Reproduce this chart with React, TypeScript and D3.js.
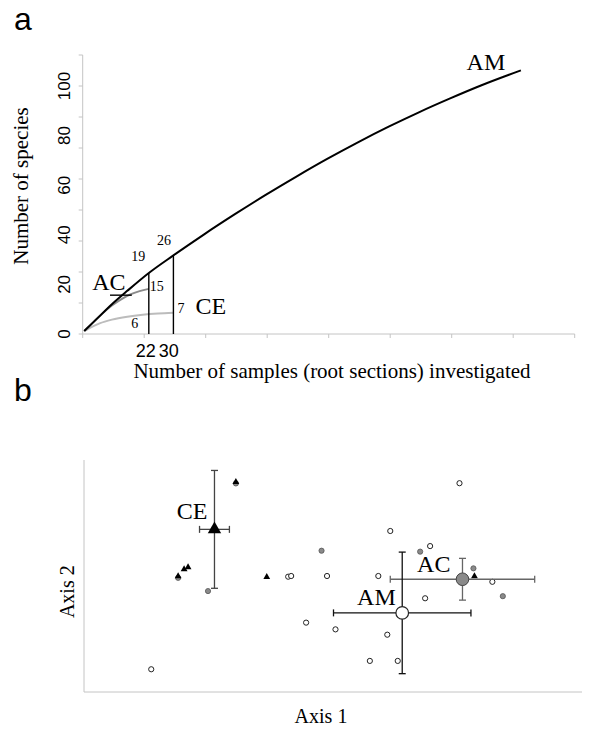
import React from "react";
import * as d3 from "d3";

// ---------- Panel a: species accumulation curves ----------
const amSamples = [1, 5, 10, 15, 22, 30, 40, 50, 60, 70, 80, 90, 100, 110, 120, 130, 143];
const amSpecies = [1.2, 6, 12, 17.4, 24.6, 31.7, 40.2, 48.3, 56.1, 63.5, 70.6, 77.3, 83.6, 89.5, 95, 100.2, 106.3];
const acSamples = [1, 4, 7, 10, 13, 16, 19, 22];
const acSpecies = [1.2, 4.8, 8.4, 11.5, 14, 16, 17.3, 18.2];
const ceSamples = [1, 3, 6, 10, 15, 20, 25, 30];
const ceSpecies = [1.2, 2.6, 4.3, 5.8, 7, 7.8, 8.3, 8.6];
const xTicksA = [0, 20, 40, 60, 80, 100, 120, 140, 160];
const yTickMarksA = [0, 12.5, 25, 37.5, 50, 62.5, 75, 87.5, 100, 112.5];
const yLabelsA = [0, 20, 40, 60, 80, 100];
const markedSamples = [22, 30];
const countLabels = ["19", "26", "15", "7", "6"];

// ---------- Panel b: ordination ----------
const amPtsX = [75.4, 61.5, 69.5, 41.0, 41.6, 48.8, 59.1, 82.0, 68.5, 44.6, 50.5, 60.9, 57.4, 63.0, 13.5];
const amPtsY = [90.0, 69.4, 62.9, 49.7, 50.0, 50.0, 50.0, 47.5, 40.4, 29.9, 27.0, 24.7, 13.4, 13.4, 9.8];
const acPtsX = [24.9, 47.7, 67.5, 78.2, 84.1, 30.5, 18.9];
const acPtsY = [43.5, 60.9, 60.5, 53.3, 41.3, 89.9, 49.2];
const cePtsX = [30.5, 18.9, 20.1, 20.9, 36.7, 78.4];
const cePtsY = [90.5, 49.9, 52.9, 53.8, 49.6, 49.9];
const groups = ["CE", "AC", "AM"];
const centX = [26.2, 76.0, 63.9];
const centY = [70.1, 48.6, 34.1];
const errX = [3.0, 14.5, 13.8];
const errY = [25.4, 9.0, 26.2];

const SERIF = "'Liberation Serif', 'Times New Roman', serif";
const SANS = "'Liberation Sans', Arial, sans-serif";

function interp(xs: number[], ys: number[], v: number) {
  for (let i = 0; i < xs.length - 1; i++) {
    if (v >= xs[i] && v <= xs[i + 1]) {
      const t = (v - xs[i]) / (xs[i + 1] - xs[i]);
      return ys[i] + t * (ys[i + 1] - ys[i]);
    }
  }
  return ys[ys.length - 1];
}

export default function App() {
  const xA = d3.scaleLinear().domain([0.5, 160.5]).range([82.7, 574.7]);
  const yA = d3.scaleLinear().domain([0, 112.5]).range([334, 55]);
  const line = d3
    .line<[number, number]>()
    .x((d) => xA(d[0]))
    .y((d) => yA(d[1]))
    .curve(d3.curveMonotoneX);
  const zip = (xs: number[], ys: number[]) => xs.map((x, i) => [x, ys[i]] as [number, number]);

  const am22 = interp(amSamples, amSpecies, 22);
  const am30 = interp(amSamples, amSpecies, 30);
  const ac22 = interp(acSamples, acSpecies, 22);
  const ce22 = interp(ceSamples, ceSpecies, 22);
  const ce30 = interp(ceSamples, ceSpecies, 30);

  // anchors for the count annotations: [sample, value, dx, dy]
  const countAnchors: [number, number, number, number][] = [
    [22, am22, -10.5, -12],
    [30, am30, -9.5, -10],
    [22, ac22, 8, 2],
    [30, ce30, 7.5, 0],
    [22, ce22, -14, 13.7],
  ];

  const xB = d3.scaleLinear().domain([0, 100]).range([84, 582]);
  const yB = d3.scaleLinear().domain([0, 100]).range([692, 460]);
  const triSmall = d3.symbol().type(d3.symbolTriangle).size(20)();
  const triBig = d3.symbol().type(d3.symbolTriangle).size(78)();
  const barColors = ["#444", "#666", "#111"];
  const labelOffsets: [number, number][] = [
    [-22.5, -10],
    [-28.7, -7.5],
    [-25.8, -7.5],
  ];
  const axisGray = "#c4c4c4";

  const amEnd = amSamples.length - 1;
  const acEnd = acSamples.length - 1;
  const ceEnd = ceSamples.length - 1;

  return (
    <svg
      width={600}
      height={737}
      style={{ position: "absolute", left: 0, top: 0, background: "#fff" }}
    >
      <rect x={0} y={0} width={600} height={737} fill="#fff" />
      {/* ---------------- panel a ---------------- */}
      <text x={14} y={30} fontFamily={SANS} fontSize={32}>a</text>
      {/* axes */}
      <line x1={xA(0.5)} x2={xA(0.5)} y1={yA(0)} y2={yA(112.5)} stroke={axisGray} strokeWidth={1} />
      <line x1={xA(0.5)} x2={xA(160.5)} y1={yA(0)} y2={yA(0)} stroke={axisGray} strokeWidth={1} />
      {yTickMarksA.map((t) => (
        <line key={"yt" + t} x1={xA(0.5) - 4} x2={xA(0.5)} y1={yA(t)} y2={yA(t)} stroke={axisGray} />
      ))}
      {xTicksA.map((t) => (
        <line key={"xt" + t} x1={xA(t + 0.5)} x2={xA(t + 0.5)} y1={yA(0)} y2={yA(0) + 4} stroke={axisGray} />
      ))}
      {yLabelsA.map((t) => (
        <text
          key={"yl" + t}
          transform={`translate(69.5,${yA(t)}) rotate(-90)`}
          textAnchor="middle"
          fontFamily={SANS}
          fontSize={17}
        >
          {t}
        </text>
      ))}
      <text
        transform={`translate(28,186) rotate(-90)`}
        textAnchor="middle"
        fontFamily={SERIF}
        fontSize={21}
      >
        Number of species
      </text>
      <text x={332} y={378} textAnchor="middle" fontFamily={SERIF} fontSize={21}>
        Number of samples (root sections) investigated
      </text>
      {/* curves */}
      <path d={line(zip(ceSamples, ceSpecies)) || ""} fill="none" stroke="#bcbcbc" strokeWidth={2} />
      <path d={line(zip(acSamples, acSpecies)) || ""} fill="none" stroke="#8a8a8a" strokeWidth={2} />
      <path d={line(zip(amSamples, amSpecies)) || ""} fill="none" stroke="#000" strokeWidth={2} />
      {/* vertical marker lines */}
      {markedSamples.map((s) => (
        <line
          key={"m" + s}
          x1={xA(s)}
          x2={xA(s)}
          y1={yA(0)}
          y2={yA(interp(amSamples, amSpecies, s))}
          stroke="#000"
          strokeWidth={1.4}
        />
      ))}
      <text x={xA(22) - 3} y={356.7} textAnchor="middle" fontFamily={SANS} fontSize={18}>
        {markedSamples[0]}
      </text>
      <text x={xA(30) - 4.6} y={356.7} textAnchor="middle" fontFamily={SANS} fontSize={18}>
        {markedSamples[1]}
      </text>
      {countLabels.map((c, i) => {
        const [s, v, dx, dy] = countAnchors[i];
        return (
          <text
            key={"c" + i}
            x={xA(s) + dx}
            y={yA(v) + dy}
            textAnchor="middle"
            fontFamily={SERIF}
            fontSize={14}
          >
            {c}
          </text>
        );
      })}
      <text
        x={xA(amSamples[amEnd]) - 35}
        y={yA(amSpecies[amEnd]) - 0.7}
        textAnchor="middle"
        fontFamily={SERIF}
        fontSize={24}
      >
        AM
      </text>
      <text
        x={xA(acSamples[acEnd]) - 40}
        y={yA(acSpecies[acEnd]) + 1}
        textAnchor="middle"
        fontFamily={SERIF}
        fontSize={24}
      >
        AC
      </text>
      <line
        x1={xA(acSamples[acEnd]) - 38.8}
        x2={xA(acSamples[acEnd]) - 17}
        y1={yA(acSpecies[acEnd]) + 6.3}
        y2={yA(acSpecies[acEnd]) + 6.3}
        stroke="#000"
        strokeWidth={1.4}
      />
      <text
        x={xA(ceSamples[ceEnd]) + 37.4}
        y={yA(ceSpecies[ceEnd]) + 1.6}
        textAnchor="middle"
        fontFamily={SERIF}
        fontSize={24}
      >
        CE
      </text>

      {/* ---------------- panel b ---------------- */}
      <text x={14} y={401} fontFamily={SANS} fontSize={32}>b</text>
      <line x1={xB(0)} x2={xB(0)} y1={yB(0)} y2={yB(100)} stroke={axisGray} strokeWidth={1} />
      <line x1={xB(0)} x2={xB(100)} y1={yB(0)} y2={yB(0)} stroke={axisGray} strokeWidth={1} />
      <text x={321} y={723} textAnchor="middle" fontFamily={SERIF} fontSize={20}>
        Axis 1
      </text>
      <text
        transform={`translate(74,591.7) rotate(-90)`}
        textAnchor="middle"
        fontFamily={SERIF}
        fontSize={20}
      >
        Axis 2
      </text>
      {/* samples */}
      {amPtsX.map((x, i) => (
        <circle key={"am" + i} cx={xB(x)} cy={yB(amPtsY[i])} r={2.6} fill="#fff" stroke="#222" strokeWidth={1} />
      ))}
      {acPtsX.map((x, i) => (
        <circle key={"ac" + i} cx={xB(x)} cy={yB(acPtsY[i])} r={2.6} fill="#8a8a8a" stroke="#555" strokeWidth={0.8} />
      ))}
      {cePtsX.map((x, i) => (
        <path key={"ce" + i} d={triSmall || ""} transform={`translate(${xB(x)},${yB(cePtsY[i])})`} fill="#000" />
      ))}
      {/* error bars */}
      {groups.map((g, i) => {
        const cx = xB(centX[i]);
        const cy = yB(centY[i]);
        const x0 = xB(centX[i] - errX[i]);
        const x1 = xB(centX[i] + errX[i]);
        const y0 = yB(centY[i] - errY[i]);
        const y1 = yB(centY[i] + errY[i]);
        const col = barColors[i];
        return (
          <g key={"eb" + g} stroke={col} strokeWidth={1.3}>
            <line x1={cx} x2={cx} y1={y0} y2={y1} />
            <line x1={cx - 3.5} x2={cx + 3.5} y1={y0} y2={y0} />
            <line x1={cx - 3.5} x2={cx + 3.5} y1={y1} y2={y1} />
            <line x1={x0} x2={x1} y1={cy} y2={cy} />
            <line x1={x0} x2={x0} y1={cy - 3.5} y2={cy + 3.5} />
            <line x1={x1} x2={x1} y1={cy - 3.5} y2={cy + 3.5} />
          </g>
        );
      })}
      {/* centroids */}
      <path d={triBig || ""} transform={`translate(${xB(centX[0])},${yB(centY[0])})`} fill="#000" />
      <circle cx={xB(centX[1])} cy={yB(centY[1])} r={6.3} fill="#8a8a8a" stroke="#444" strokeWidth={1} />
      <circle cx={xB(centX[2])} cy={yB(centY[2])} r={6.3} fill="#fff" stroke="#222" strokeWidth={1.2} />
      {groups.map((g, i) => (
        <text
          key={"gl" + g}
          x={xB(centX[i]) + labelOffsets[i][0]}
          y={yB(centY[i]) + labelOffsets[i][1]}
          textAnchor="middle"
          fontFamily={SERIF}
          fontSize={24}
        >
          {g}
        </text>
      ))}
    </svg>
  );
}
